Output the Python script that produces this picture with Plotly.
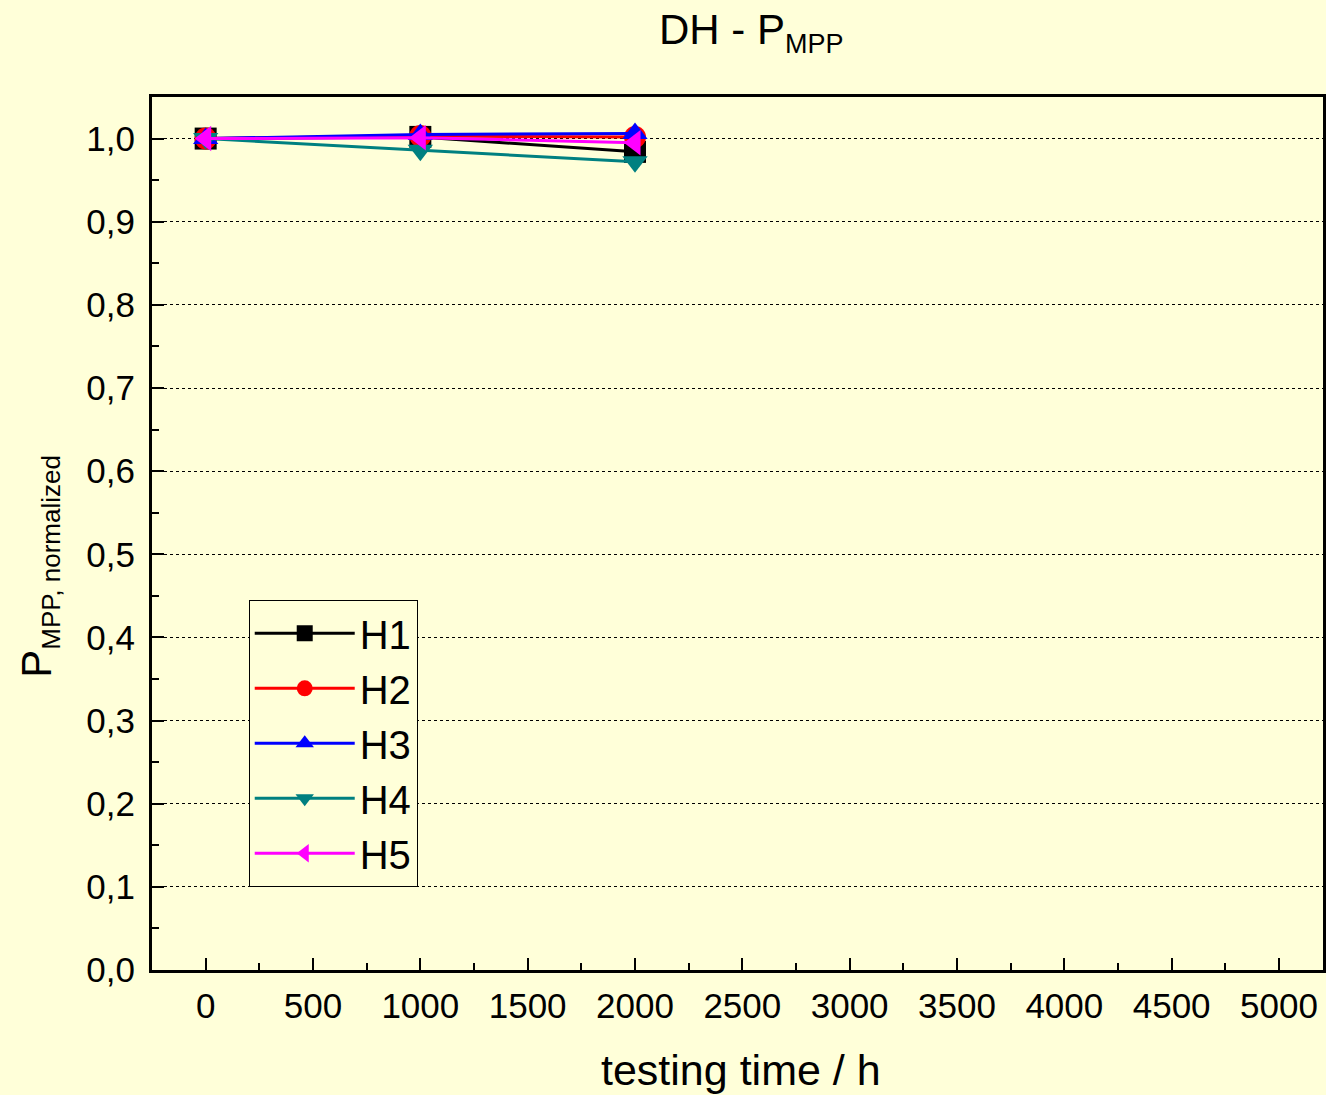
import plotly.graph_objects as go

hours = [0, 1000, 2000]
H1 = [1.000, 1.002, 0.984]
H2 = [1.000, 1.003, 1.002]
H3 = [1.000, 1.005, 1.006]
H4 = [1.000, 0.986, 0.972]
H5 = [1.000, 1.001, 0.995]

names = ["H1", "H2", "H3", "H4", "H5"]
series = [H1, H2, H3, H4, H5]
colors = ["#000000", "#FF0000", "#0000FF", "#008080", "#FF00FF"]
symbols = ["square", "circle", "triangle-up", "triangle-down", "triangle-left"]

BG = "#FFFFD9"
FONT = "Liberation Sans, Arial, sans-serif"

fig = go.Figure()
for n, s, c, sym in zip(names, series, colors, symbols):
    fig.add_trace(go.Scatter(
        x=hours, y=s, name=n, mode="lines+markers",
        line=dict(color=c, width=3),
        marker=dict(symbol=sym, size=22, color=c),
    ))

fig.update_layout(
    width=1326, height=1095,
    paper_bgcolor=BG, plot_bgcolor=BG,
    margin=dict(l=152, r=0, t=97, b=125),
    separators=", ",
    font=dict(family=FONT, color="black", size=35),
    showlegend=True,
    legend=dict(
        x=0.0826, y=0.424, xanchor="left", yanchor="top",
        bgcolor=BG, bordercolor="black", borderwidth=1,
        font=dict(size=40, family=FONT), itemwidth=100,
        entrywidth=185, entrywidthmode="pixels",
        tracegroupgap=0,
    ),
)

fig.update_xaxes(
    range=[-250, 5205], showgrid=False, zeroline=False,
    showline=True, linecolor="black", linewidth=3, mirror=True,
    tickmode="linear", tick0=0, dtick=500, tickformat="d",
    ticks="inside", ticklen=12, tickwidth=2, tickcolor="black",
    minor=dict(ticks="inside", ticklen=7, tickwidth=2, dtick=250, tick0=0, tickcolor="black"),
    tickfont=dict(size=35), ticklabelstandoff=3,
)
fig.update_yaxes(
    range=[0, 1.05], zeroline=False,
    showline=True, linecolor="black", linewidth=3, mirror=True,
    tickmode="linear", tick0=0, dtick=0.1, tickformat=".1f",
    showgrid=True, gridcolor="black", gridwidth=1, griddash="dot",
    ticks="inside", ticklen=12, tickwidth=2, tickcolor="black",
    minor=dict(ticks="inside", ticklen=7, tickwidth=2, dtick=0.05, tick0=0, tickcolor="black", showgrid=False),
    tickfont=dict(size=35), ticklabelstandoff=7,
)

fig.add_annotation(
    text="DH - P<sub><span style='font-size:27px'>MPP</span></sub>",
    xref="paper", yref="paper", x=0.512, y=1.0, yshift=65,
    xanchor="center", yanchor="middle", showarrow=False,
    font=dict(size=42, family=FONT),
)
fig.add_annotation(
    text="testing time / h",
    xref="paper", yref="paper", x=0.503, y=0, yshift=-100,
    xanchor="center", yanchor="middle", showarrow=False,
    font=dict(size=43, family=FONT),
)
fig.add_annotation(
    text="P<sub><span style='font-size:26px'>MPP, normalized</span></sub>",
    xref="paper", yref="paper", x=0, xshift=-112, y=0.462,
    xanchor="center", yanchor="middle", showarrow=False, textangle=-90,
    font=dict(size=42, family=FONT),
)

fig.write_html(
    "out.html",
    config={"displayModeBar": False},
    post_script="document.body.style.margin='0';document.body.style.overflow='hidden';",
)
